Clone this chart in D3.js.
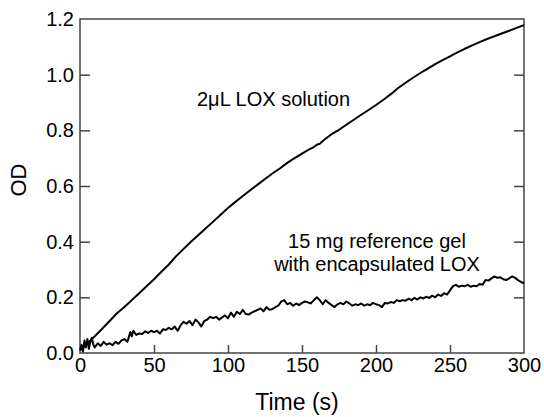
<!DOCTYPE html>
<html>
<head>
<meta charset="utf-8">
<script src="https://cdn.jsdelivr.net/npm/d3@7"></script>
<style>
  html, body { margin: 0; padding: 0; background: #fff; }
  text { font-family: Arial, "Liberation Sans", Helvetica, sans-serif; fill: #000; }
</style>
</head>
<body>
<svg id="chart" width="544" height="417"></svg>
<script>
// ---- data ----
const xTicks = [0, 50, 100, 150, 200, 250, 300];
const yTicks = [0.0, 0.2, 0.4, 0.6, 0.8, 1.0, 1.2];
const xTitle = "Time (s)";
const yTitle = "OD";
const solutionLabel = "2\u03bcL LOX solution";
const gelLabel = ["15 mg reference gel", "with encapsulated LOX"];

// 2 µL LOX solution
const solTime = [0, 2, 5, 10, 15, 20, 25, 30, 35, 40, 45, 50, 55, 60, 65, 70, 75, 80, 85, 90, 95,
  100, 105, 110, 115, 120, 125, 130, 135, 140, 145, 150, 155, 158, 160, 162, 165, 170, 175, 180, 185,
  190, 195, 200, 205, 210, 215, 220, 225, 230, 235, 240, 245, 250, 255, 260, 265, 270, 275, 280,
  285, 290, 295, 300];
const solOD = [0.01, 0.02, 0.035, 0.06, 0.087, 0.115, 0.143, 0.165, 0.19, 0.215, 0.24, 0.265,
  0.292, 0.318, 0.348, 0.374, 0.4, 0.424, 0.448, 0.472, 0.497, 0.521, 0.543, 0.564, 0.585, 0.605,
  0.625, 0.645, 0.663, 0.683, 0.7, 0.716, 0.732, 0.74, 0.748, 0.752, 0.766, 0.786, 0.802, 0.82, 0.838,
  0.856, 0.873, 0.891, 0.91, 0.93, 0.952, 0.971, 0.989, 1.006, 1.022, 1.038, 1.052, 1.066, 1.08,
  1.093, 1.105, 1.117, 1.128, 1.138, 1.148, 1.158, 1.168, 1.178];

// 15 mg reference gel with encapsulated LOX
const gelTime = [0, 1, 2, 3, 4, 5, 6, 7, 8, 9, 10, 12, 14, 16, 18, 20, 22, 24, 26, 28, 30, 32, 34,
  35, 36, 38, 40, 42, 44, 46, 48, 50, 52, 54, 56, 58, 60, 62, 64, 66, 68, 70, 72, 74, 76, 78, 80,
  82, 84, 86, 88, 90, 92, 94, 96, 98, 100, 102, 104, 106, 108, 110, 112, 114, 116, 118, 120, 122,
  124, 126, 128, 130, 132, 134, 136, 138, 140, 142, 144, 146, 148, 150, 152, 154, 156, 158, 160,
  162, 164, 166, 168, 170, 172, 174, 176, 178, 180, 182, 184, 186, 188, 190, 192, 194, 196, 198,
  200, 202, 204, 206, 208, 210, 212, 214, 216, 218, 220, 222, 224, 226, 228, 230, 232, 234, 236,
  238, 240, 242, 244, 246, 248, 250, 252, 254, 256, 258, 260, 262, 264, 266, 268, 270, 272, 274,
  276, 278, 280, 282, 284, 286, 288, 290, 292, 294, 296, 298, 300];
const gelOD = [0.01, 0.03, 0.005, 0.045, 0.02, 0.05, 0.015, 0.04, 0.055, 0.03, 0.02, 0.035, 0.025,
  0.04, 0.03, 0.035, 0.028, 0.04, 0.033, 0.045, 0.05, 0.04, 0.075, 0.06, 0.08, 0.065, 0.07, 0.068,
  0.078, 0.072, 0.08, 0.075, 0.08, 0.07, 0.085, 0.083, 0.09, 0.085, 0.095, 0.08, 0.1, 0.112,
  0.105, 0.115, 0.1, 0.12, 0.11, 0.095, 0.115, 0.12, 0.13, 0.125, 0.13, 0.12, 0.128, 0.135, 0.125,
  0.145, 0.13, 0.148, 0.14, 0.155, 0.14, 0.138, 0.145, 0.15, 0.155, 0.16, 0.15, 0.165, 0.155,
  0.158, 0.165, 0.17, 0.185, 0.19, 0.175, 0.18, 0.17, 0.178, 0.172, 0.18, 0.185, 0.182, 0.178,
  0.19, 0.2, 0.19, 0.175, 0.19, 0.18, 0.172, 0.165, 0.175, 0.18, 0.175, 0.185, 0.178, 0.17, 0.175,
  0.172, 0.178, 0.17, 0.175, 0.172, 0.18, 0.175, 0.172, 0.165, 0.18, 0.178, 0.183, 0.18, 0.19,
  0.186, 0.19, 0.188, 0.195, 0.19, 0.198, 0.192, 0.2, 0.196, 0.202, 0.198, 0.206, 0.2, 0.21,
  0.205, 0.215, 0.21, 0.225, 0.24, 0.245, 0.238, 0.242, 0.24, 0.245, 0.238, 0.242, 0.24, 0.248,
  0.245, 0.262, 0.26, 0.268, 0.275, 0.27, 0.272, 0.265, 0.262, 0.268, 0.275, 0.27, 0.262, 0.255,
  0.25];

// ---- layout ----
const svg = d3.select("#chart");
const mLeft = 80, mRight = 524, mTop = 19, mBottom = 353;

const x = d3.scaleLinear().domain([0, 300]).range([mLeft, mRight]);
const y = d3.scaleLinear().domain([0, 1.2]).range([mBottom, mTop]);

const frameColor = "#444";
const fontSize = 20;

// frame
svg.append("rect")
  .attr("x", mLeft).attr("y", mTop)
  .attr("width", mRight - mLeft).attr("height", mBottom - mTop)
  .attr("fill", "none").attr("stroke", frameColor).attr("stroke-width", 1.5);

// bottom axis (ticks inward)
const xAxis = d3.axisBottom(x).tickValues(xTicks).tickSize(-8).tickPadding(5)
  .tickFormat(d3.format("d"));
const gx = svg.append("g").attr("transform", `translate(0,${mBottom})`).call(xAxis);
gx.select(".domain").remove();
gx.selectAll(".tick line").attr("stroke", frameColor).attr("stroke-width", 1.5)
  .filter(d => d === 0 || d === 300).remove();
gx.selectAll(".tick text").attr("font-size", fontSize)
  .attr("font-family", "Arial, 'Liberation Sans', sans-serif").attr("fill", "#000");

// left axis
const yAxis = d3.axisLeft(y).tickValues(yTicks).tickSize(-10).tickPadding(6)
  .tickFormat(d3.format(".1f"));
const gy = svg.append("g").attr("transform", `translate(${mLeft},0)`).call(yAxis);
gy.select(".domain").remove();
gy.selectAll(".tick line").attr("stroke", frameColor).attr("stroke-width", 1.5)
  .filter(d => d === 0 || d === 1.2).remove();
gy.selectAll(".tick text").attr("font-size", fontSize)
  .attr("font-family", "Arial, 'Liberation Sans', sans-serif").attr("fill", "#000");

// right axis ticks
const yAxisR = d3.axisRight(y).tickValues(yTicks).tickSize(-10).tickFormat("");
const gyr = svg.append("g").attr("transform", `translate(${mRight},0)`).call(yAxisR);
gyr.select(".domain").remove();
gyr.selectAll(".tick line").attr("stroke", frameColor).attr("stroke-width", 1.5)
  .filter(d => d === 0 || d === 1.2).remove();

// axis titles
svg.append("text").attr("x", 297).attr("y", 410)
  .attr("text-anchor", "middle").attr("font-size", 23).text(xTitle);
svg.append("text")
  .attr("transform", `translate(26,180) rotate(-90)`)
  .attr("text-anchor", "middle").attr("font-size", 22).text(yTitle);

// lines
const line = d3.line().x(d => x(d[0])).y(d => y(d[1]));
const solData = solTime.map((t, i) => [t, solOD[i]]);
const gelData = gelTime.map((t, i) => [t, gelOD[i]]);

svg.append("path").datum(solData).attr("d", line)
  .attr("fill", "none").attr("stroke", "#000").attr("stroke-width", 2)
  .attr("stroke-linejoin", "round");
svg.append("path").datum(gelData).attr("d", line)
  .attr("fill", "none").attr("stroke", "#000").attr("stroke-width", 2)
  .attr("stroke-linejoin", "round");

// annotations
svg.append("text").attr("x", 197).attr("y", 106).attr("font-size", 20).text(solutionLabel);
const ann = svg.append("text").attr("text-anchor", "middle").attr("font-size", 20);
gelLabel.forEach((s, i) => {
  ann.append("tspan").attr("x", 377).attr("y", 248 + i * 23).text(s);
});
</script>
</body>
</html>
